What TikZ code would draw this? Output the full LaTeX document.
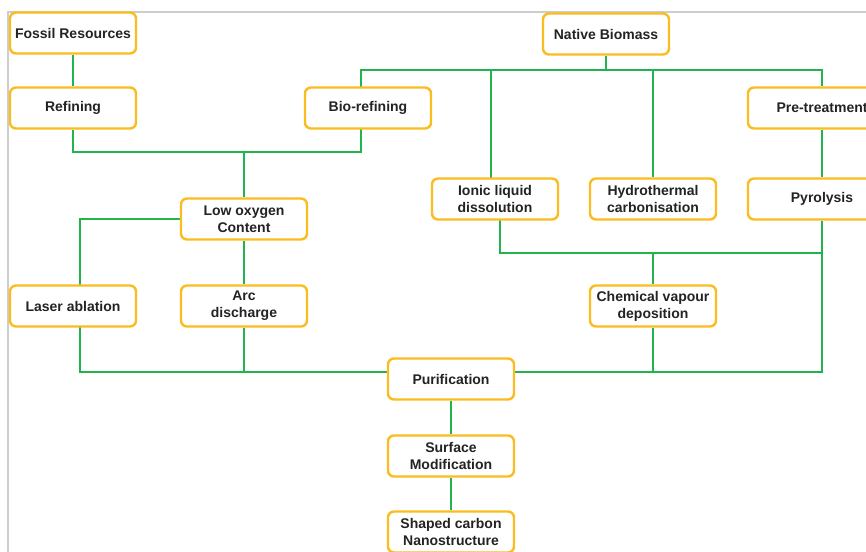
\documentclass[tikz,border=0pt]{standalone}
\usepackage{fontspec}
\setmainfont{Liberation Sans}
\usetikzlibrary{backgrounds}
\definecolor{boxline}{RGB}{250,188,30}
\definecolor{linkgreen}{RGB}{34,180,76}
\definecolor{framegray}{RGB}{205,205,205}
\definecolor{textdark}{RGB}{35,35,35}
\begin{document}
\begin{tikzpicture}[x=0.75pt, y=-0.75pt,
       stage/.style={rectangle,rounded corners=4.5pt,draw=boxline,line width=1.8pt,
      fill=white,text=textdark,font=\fontsize{10.5}{12.8}\selectfont\bfseries,
      align=center,minimum width=94.5pt,minimum height=30.75pt,inner sep=2pt},
        widestage/.style={stage,minimum width=111pt},
        link/.style={line width=1.9pt,linkgreen},
        frame/.style={line width=1.1pt,framegray}]

        \useasboundingbox (0,0) rectangle (866,552);

	\node [stage] (fossil) at (73, 33)         {Fossil Resources};
        \node [stage] (refining) at (73, 108)      {Refining};
        \node [stage] (biorefining) at (368, 108)  {Bio-refining};
        \node [stage] (native) at (606, 34)        {Native Biomass};
        \node [widestage] (pre) at (822, 108)      {Pre-treatment};
        \node [stage] (ionic) at (495, 199)        {Ionic liquid\\dissolution};
        \node [stage] (hydro) at (653, 199)        {Hydrothermal\\carbonisation};
        \node [widestage] (pyro) at (822, 199)     {Pyrolysis};
        \node [stage] (lowox) at (244, 219)        {Low oxygen\\Content};
        \node [stage] (laser) at (73, 306)         {Laser ablation};
        \node [stage] (arc) at (244, 306)          {Arc\\discharge};
        \node [stage] (cvd) at (653, 306)          {Chemical vapour\\deposition};
        \node [stage] (purif) at (451, 379)        {Purification};
        \node [stage] (surface) at (451, 456)      {Surface\\Modification};
        \node [stage] (shaped) at (451, 532)       {Shaped carbon\\Nanostructure};

        \coordinate (fuse) at (244, 152);
        \coordinate (split) at (606, 70);
        \coordinate (merge) at (653, 253);
        \coordinate (inlet) at (388, 372);
        \coordinate (outlet) at (514, 372);

        \begin{scope}[on background layer]
        \draw [frame] (8,600) -- (8,12) -- (900,12);
        \draw [link] (fossil) -- (refining);
        \draw [link] (refining.south) |- (fuse) -| (361,0 |- biorefining);
        \draw [link] (fuse) -- (lowox);
        \draw [link] (native) -- (split);
        \draw [link] (361,0 |- biorefining) |- (split) -| (pre.north);
        \draw [link] (491,0 |- split) -- (491,0 |- ionic);
        \draw [link] (hydro.north |- split) -- (hydro.north);
        \draw [link] (pre) -- (pyro);
        \draw [link] (500,0 |- ionic) |- (merge) -| (pyro.south);
        \draw [link] (merge) -- (cvd);
        \draw [link] (pyro.south) |- (outlet);
        \draw [link] (cvd.south) -- (cvd.south |- outlet);
        \draw [link] (lowox.west) -| (80,0 |- laser);
        \draw [link] (lowox) -- (arc);
        \draw [link] (80,0 |- laser) |- (inlet);
        \draw [link] (arc.south) -- (arc.south |- inlet);
        \draw [link] (purif) -- (surface);
        \draw [link] (surface) -- (shaped);
        \end{scope}
\end{tikzpicture}
\end{document}
